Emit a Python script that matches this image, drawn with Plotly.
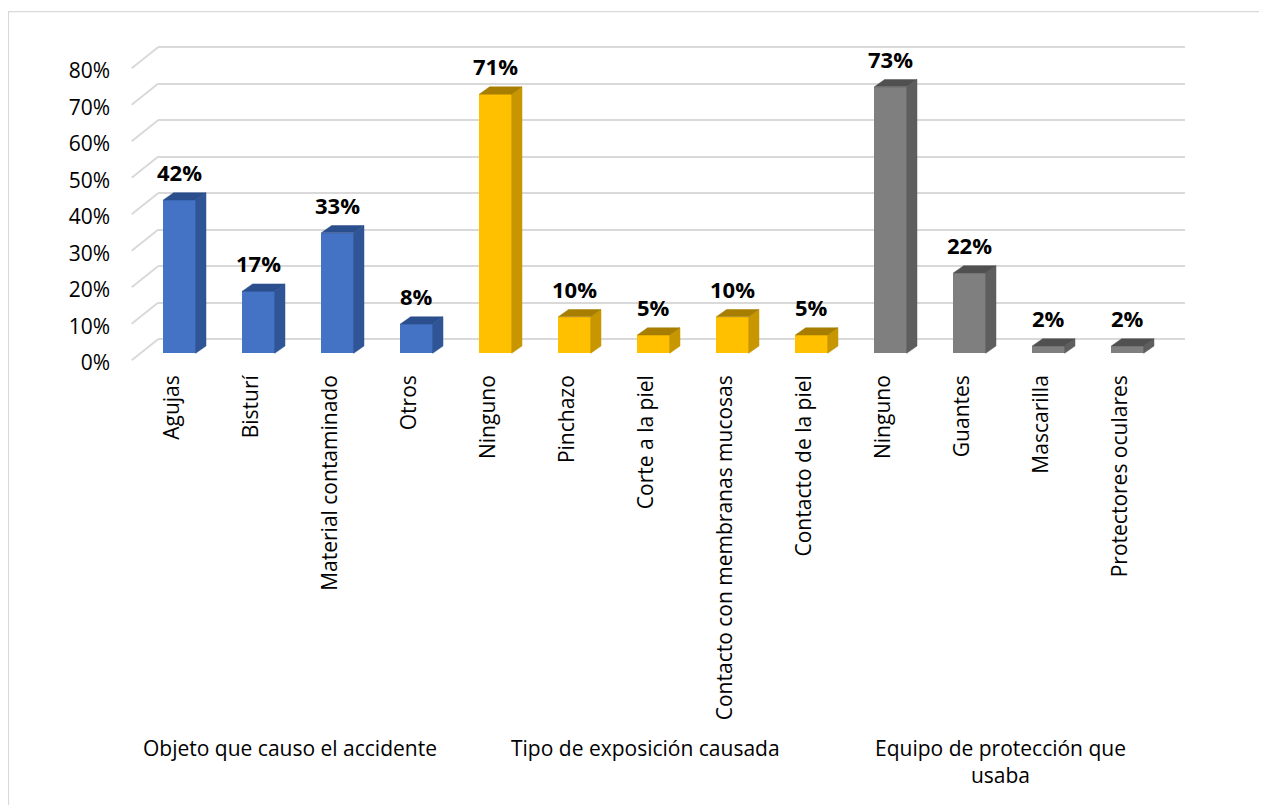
import plotly.graph_objects as go

# ---------------- data ----------------
group_names = ["Objeto que causo el accidente",
               "Tipo de exposición causada",
               "Equipo de protección que<br>usaba"]

objeto_labels = ["Agujas", "Bisturí", "Material contaminado", "Otros"]
objeto_values = [0.42, 0.17, 0.33, 0.08]

tipo_labels = ["Ninguno", "Pinchazo", "Corte a la piel",
               "Contacto con membranas mucosas", "Contacto de la piel"]
tipo_values = [0.71, 0.10, 0.05, 0.10, 0.05]

equipo_labels = ["Ninguno", "Guantes", "Mascarilla", "Protectores oculares"]
equipo_values = [0.73, 0.22, 0.02, 0.02]

y_ticks = [0, 0.1, 0.2, 0.3, 0.4, 0.5, 0.6, 0.7, 0.8]

# ---------------- styles ----------------
front_colors = ["#4472C4", "#FFC000", "#7F7F7F"]
side_colors = ["#2F5597", "#C79600", "#5E5E5E"]
top_colors = ["#2B4E8C", "#A77E00", "#505050"]
FONT = "Open Sans"

OFF = 8  # page body margin offset
W, H = 1267, 805
PW, PH = 1027, 325
L = 158 - OFF
T = 40 - OFF
R = W - L - PW
B = H - T - PH
PX_PER_CAT = 79.0
PX_PER_UNIT = 365.0
xmin = -((179.5 - OFF) - L) / PX_PER_CAT
xmax = xmin + PW / PX_PER_CAT
span = PH / PX_PER_UNIT


def yrange(zero_px_ref):
    zero_px = zero_px_ref - OFF
    lo = -((T + PH) - zero_px) / PX_PER_UNIT
    return [lo, lo + span]


bar_w = 0.41
dx = 10.3 / PX_PER_CAT
dy = 7.3 / PX_PER_UNIT

groups = [(objeto_labels, objeto_values),
          (tipo_labels, tipo_values),
          (equipo_labels, equipo_values)]

fig = go.Figure()
all_labels, all_x = [], []
group_centers = []
pos = 0
for g, (labs, vals) in enumerate(groups):
    xs = list(range(pos, pos + len(vals)))
    group_centers.append(sum(xs) / len(xs))
    all_labels += labs
    all_x += xs
    # front faces
    fig.add_trace(go.Bar(x=xs, y=vals, width=bar_w, yaxis="y2",
                         marker=dict(color=front_colors[g], line=dict(width=0)),
                         showlegend=False, hoverinfo="skip"))
    for x, v in zip(xs, vals):
        xr = x + bar_w / 2
        xl = x - bar_w / 2
        # side face
        fig.add_trace(go.Scatter(
            x=[xr, xr + dx, xr + dx, xr, xr], y=[0, dy, v + dy, v, 0],
            yaxis="y2", mode="lines", fill="toself",
            fillcolor=side_colors[g], line=dict(color=side_colors[g], width=0.5),
            showlegend=False, hoverinfo="skip"))
        # top face
        fig.add_trace(go.Scatter(
            x=[xl, xr, xr + dx, xl + dx, xl], y=[v, v, v + dy, v + dy, v],
            yaxis="y2", mode="lines", fill="toself",
            fillcolor=top_colors[g], line=dict(color=top_colors[g], width=0.5),
            showlegend=False, hoverinfo="skip"))
        fig.add_annotation(x=x, y=v, xref="x", yref="y2", text=f"{round(v*100)}%",
                           showarrow=False, yanchor="middle", yshift=28,
                           font=dict(family=FONT, size=22, color="#000000", weight="bold"))
    pos += len(vals)

# invisible trace so the label axis is drawn
fig.add_trace(go.Scatter(x=[None], y=[None], yaxis="y3", mode="markers",
                         showlegend=False, hoverinfo="skip"))

label_shift = -7 / PX_PER_CAT
grid_color = "#D9D9D9"

# slanted front parts of the gridlines
slant_dx = -26.3 / PW
slant_dy = 21 / PX_PER_UNIT
shapes = []
for t in y_ticks:
    shapes.append(dict(type="line", xref="paper", yref="y",
                       x0=slant_dx, y0=t - slant_dy, x1=0, y1=t,
                       line=dict(color=grid_color, width=2), layer="below"))


def px_to_paper_x(xp_ref):
    return ((xp_ref - OFF) - L) / PW


def px_to_paper_y(yp_ref):
    return ((T + PH) - (yp_ref - OFF)) / PH


# outer chart border
shapes.append(dict(type="rect", xref="paper", yref="paper",
                   x0=px_to_paper_x(8.5), x1=px_to_paper_x(1261),
                   y0=px_to_paper_y(830), y1=px_to_paper_y(11.7),
                   line=dict(color="#D9D9D9", width=1.2), layer="below"))

for gname, c in zip(group_names, group_centers):
    fig.add_annotation(x=c - 8.5 / PX_PER_CAT, y=0, xref="x", yref="paper",
                       text=gname, showarrow=False, yanchor="top", yshift=-367,
                       font=dict(family=FONT, size=21, color="#000000"))

fig.update_layout(
    width=W, height=H,
    margin=dict(l=L, r=R, t=T, b=B, autoexpand=False),
    paper_bgcolor="white", plot_bgcolor="white",
    showlegend=False, bargap=0,
    font=dict(family=FONT, size=21, color="#000000"),
    xaxis=dict(range=[xmin, xmax], tickmode="array",
               tickvals=[x + label_shift for x in all_x], ticktext=all_labels,
               tickangle=-90, ticks="", showgrid=False, zeroline=False, showline=False,
               ticklabelstandoff=5,
               tickfont=dict(family=FONT, size=21, color="#000000")),
    yaxis=dict(range=yrange(339.3), tickvals=y_ticks, showticklabels=False,
               showgrid=True, gridcolor=grid_color, gridwidth=2,
               zeroline=False, showline=False, ticks=""),
    yaxis2=dict(range=yrange(353.3), overlaying="y", showgrid=False,
                showticklabels=False, zeroline=False, showline=False, ticks=""),
    yaxis3=dict(range=yrange(363.0), overlaying="y", tickmode="array",
                tickvals=y_ticks, ticktext=[f"{round(t*100)}%" for t in y_ticks],
                showgrid=False, zeroline=False, showline=False, ticks="",
                ticklabelstandoff=47,
                tickfont=dict(family=FONT, size=21, color="#000000")),
    shapes=shapes,
)

fig.write_html("out.html")
